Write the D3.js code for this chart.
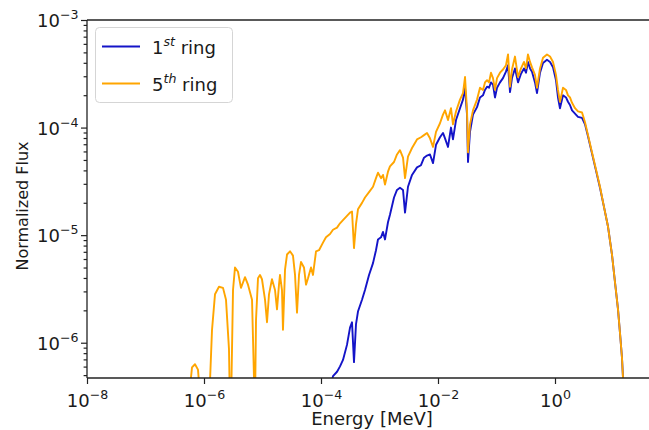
<!DOCTYPE html>
<html><head><meta charset="utf-8">
<script src="https://cdn.jsdelivr.net/npm/d3@7"></script>
<style>
body{margin:0;background:#fff}
svg{display:block}
text{font-family:"DejaVu Sans",sans-serif;fill:#1a1a1a}
</style>
</head><body>
<svg id="chart" width="649" height="430"></svg>
<script>
// log10 of energy (MeV), shared by both series
const log10Energy = [
 -6.274,-6.205,-6.154,-6.103,-6.051,-5.915,-5.863,-5.812,-5.744,-5.675,
 -5.624,-5.573,-5.556,-5.538,-5.504,-5.470,-5.419,-5.368,-5.333,-5.299,
 -5.248,-5.179,-5.145,-5.128,-5.111,-5.077,-5.043,-5.009,-4.957,-4.923,
 -4.889,-4.838,-4.786,-4.752,-4.718,-4.701,-4.667,-4.650,-4.615,-4.581,
 -4.530,-4.479,-4.444,-4.410,-4.376,-4.342,-4.291,-4.256,-4.222,-4.171,
 -4.137,-4.085,-4.034,-3.966,-3.915,-3.846,-3.795,-3.726,-3.675,-3.624,
 -3.556,-3.504,-3.470,-3.436,-3.402,-3.368,-3.299,-3.248,-3.179,-3.111,
 -3.060,-3.026,-2.974,-2.940,-2.906,-2.855,-2.821,-2.752,-2.701,-2.650,
 -2.598,-2.564,-2.513,-2.444,-2.359,-2.291,-2.239,-2.188,-2.137,-2.085,
 -2.034,-1.966,-1.915,-1.880,-1.829,-1.778,-1.744,-1.692,-1.624,-1.573,
 -1.538,-1.504,-1.487,-1.453,-1.402,-1.333,-1.282,-1.231,-1.197,-1.162,
 -1.128,-1.094,-1.060,-1.026,-0.991,-0.940,-0.889,-0.838,-0.803,-0.769,
 -0.735,-0.684,-0.632,-0.581,-0.530,-0.496,-0.462,-0.427,-0.393,-0.342,
 -0.308,-0.256,-0.205,-0.137,-0.085,-0.034, 0.017, 0.051, 0.085, 0.137,
  0.188, 0.222, 0.256, 0.291, 0.342, 0.393, 0.462, 0.513, 0.564, 0.632,
  0.701, 0.769, 0.838, 0.906, 0.974, 1.026, 1.077, 1.111, 1.145, 1.162,
  1.179
];
// log10 of normalized flux, 1st ring (null = not plotted)
const log10Flux1st = [
 null,null,null,null,null,null,null,null,null,null,
 null,null,null,null,null,null,null,null,null,null,
 null,null,null,null,null,null,null,null,null,null,
 null,null,null,null,null,null,null,null,null,null,
 null,null,null,null,null,null,null,null,null,null,
 null,null,null,null,-6.60,-6.44,-6.31,-6.27,-6.22,-6.16,
 -6.02,-5.86,-5.81,-6.18,-5.83,-5.71,-5.60,-5.51,-5.37,-5.26,
 -5.14,-5.04,-5.02,-4.97,-5.04,-4.88,-4.81,-4.65,-4.58,-4.56,
 -4.58,-4.79,-4.55,-4.44,-4.37,-4.35,-4.28,-4.26,-4.25,-4.33,
 -4.16,-4.09,-4.05,-4.10,-4.18,-4.00,-4.11,-3.93,-3.82,-3.74,
 -3.63,-3.88,-4.32,-4.04,-3.88,-3.81,-3.72,-3.70,-3.65,-3.62,
 -3.63,-3.58,-3.60,-3.72,-3.63,-3.58,-3.54,-3.48,-3.42,-3.67,
 -3.54,-3.45,-3.58,-3.50,-3.45,-3.49,-3.39,-3.45,-3.48,-3.58,
 -3.68,-3.49,-3.40,-3.37,-3.39,-3.44,-3.56,-3.72,-3.82,-3.70,
 -3.72,-3.76,-3.79,-3.84,-3.87,-3.90,-3.91,-3.97,-4.08,-4.24,
 -4.40,-4.56,-4.74,-4.92,-5.18,-5.44,-5.69,-5.91,-6.14,-6.32,
 -6.60
];
// log10 of normalized flux, 5th ring
const log10Flux5th = [
 -6.60,-6.23,-6.20,-6.25,-6.60,-6.60,-5.88,-5.55,-5.48,-5.49,
 -5.60,-6.06,-6.60,-6.60,-5.51,-5.30,-5.34,-5.49,-5.44,-5.39,
 -5.46,-5.60,-6.34,-6.60,-5.79,-5.40,-5.37,-5.41,-5.60,-5.81,
 -5.55,-5.41,-5.51,-5.69,-5.46,-5.37,-5.51,-5.88,-5.32,-5.18,
 -5.15,-5.19,-5.37,-5.72,-5.37,-5.25,-5.30,-5.46,-5.40,-5.30,
 -5.37,-5.15,-5.14,-5.07,-5.02,-4.99,-4.95,-4.93,-4.89,-4.86,
 -4.82,-4.79,-4.78,-5.12,-4.90,-4.76,-4.70,-4.65,-4.60,-4.55,
 -4.47,-4.42,-4.47,-4.44,-4.53,-4.41,-4.36,-4.32,-4.25,-4.21,
 -4.28,-4.47,-4.27,-4.19,-4.11,-4.09,-4.07,-4.05,-4.10,-4.18,
 -4.04,-3.96,-3.88,-3.84,-3.93,-3.82,-3.97,-3.85,-3.74,-3.68,
 -3.53,-3.84,-4.23,-3.97,-3.84,-3.74,-3.63,-3.65,-3.58,-3.56,
 -3.58,-3.49,-3.54,-3.65,-3.54,-3.49,-3.46,-3.42,-3.32,-3.62,
 -3.46,-3.34,-3.53,-3.45,-3.39,-3.45,-3.32,-3.39,-3.44,-3.51,
 -3.63,-3.45,-3.35,-3.32,-3.34,-3.39,-3.51,-3.65,-3.76,-3.63,
 -3.65,-3.70,-3.72,-3.77,-3.82,-3.85,-3.86,-3.95,-4.07,-4.23,
 -4.39,-4.55,-4.74,-4.92,-5.18,-5.44,-5.69,-5.91,-6.14,-6.32,
 -6.60
];
const xTickValues = [1e-8, 1e-6, 1e-4, 1e-2, 1];
const yTickValues = [1e-6, 1e-5, 1e-4, 1e-3];
const seriesLabels = [["1", "st", " ring"], ["5", "th", " ring"]];
const seriesColors = ["#1414c8", "#FFA500"];

const svg = d3.select("#chart");
const plotLeft = 87, plotTop = 20, plotBottom = 378, plotRight = 649, pxPerDecade = 58.5;
const xMin = 1e-8, xMax = 45;
const x = d3.scaleLog().domain([xMin, xMax])
  .range([plotLeft, plotLeft + pxPerDecade * Math.log10(xMax / xMin)]);
const y = d3.scaleLog().domain([4.7e-7, 1e-3]).range([plotBottom, plotTop]);

const series = [log10Flux1st, log10Flux5th].map(arr =>
  log10Energy.map((e, i) => ({E: Math.pow(10, e), F: arr[i] == null ? null : Math.pow(10, arr[i])})));

svg.append("defs").append("clipPath").attr("id", "clip")
  .append("rect").attr("x", plotLeft).attr("y", plotTop)
  .attr("width", plotRight - plotLeft).attr("height", plotBottom - plotTop);

const line = d3.line().defined(d => d.F != null).x(d => x(d.E)).y(d => y(d.F));
const g = svg.append("g").attr("clip-path", "url(#clip)");
series.forEach((s, i) => {
  g.append("path").datum(s).attr("d", line).attr("fill", "none")
    .attr("stroke", seriesColors[i]).attr("stroke-width", 1.9).attr("stroke-linejoin", "round");
});

const fs = 18, supFs = 12.6, supDy = -8;
const minus = "\u2212";
function expLabel(d) { const e = Math.round(Math.log10(d)); return e < 0 ? minus + Math.abs(e) : String(e); }
function supText(sel, base, exp) {
  sel.text(null);
  sel.append("tspan").text(base);
  sel.append("tspan").attr("dy", supDy).attr("font-size", supFs).text(exp);
}

// minor y ticks
const yMinor = [];
for (let k = -7; k <= -4; k++) for (let m = 2; m <= 9; m++) {
  const v = m * Math.pow(10, k); if (v >= 4.7e-7 && v <= 1e-3) yMinor.push(v);
}

const yAxisMinor = svg.append("g").attr("transform", `translate(${plotLeft},0)`)
  .call(d3.axisLeft(y).tickValues(yMinor).tickSize(3.4).tickFormat(""));
const yAxis = svg.append("g").attr("transform", `translate(${plotLeft},0)`)
  .call(d3.axisLeft(y).tickValues(yTickValues).tickSize(6));
yAxis.selectAll(".tick text").attr("font-size", fs).attr("font-family", "DejaVu Sans")
  .attr("dy", null).attr("y", 6.8).attr("x", -8.5)
  .each(function(d) { supText(d3.select(this), "10", expLabel(d)); });

const xAxis = svg.append("g").attr("transform", `translate(0,${plotBottom})`)
  .call(d3.axisBottom(x).tickValues(xTickValues).tickSize(6));
xAxis.selectAll(".tick text").attr("font-size", fs).attr("font-family", "DejaVu Sans")
  .attr("dy", null).attr("y", 28.5)
  .each(function(d) { supText(d3.select(this), "10", expLabel(d)); });

[yAxis, yAxisMinor, xAxis].forEach(a => {
  a.selectAll(".domain").attr("stroke", "#222").attr("stroke-width", 1.3);
  a.selectAll(".tick line").attr("stroke", "#222").attr("stroke-width", 1.2);
});
yAxisMinor.select(".domain").remove();
yAxis.select(".domain").attr("d", `M0,${plotBottom}V${plotTop}`);
xAxis.select(".domain").attr("d", `M${plotLeft},0H${plotRight}`);
svg.append("line").attr("x1", plotLeft).attr("x2", plotRight).attr("y1", plotTop).attr("y2", plotTop)
  .attr("stroke", "#222").attr("stroke-width", 1.3);

svg.append("text").attr("x", 372).attr("y", 425).attr("text-anchor", "middle")
  .attr("font-size", fs).text("Energy [MeV]");
svg.append("text").attr("transform", `translate(28,206) rotate(-90)`)
  .attr("text-anchor", "middle").attr("font-size", 16).text("Normalized Flux");

// legend
const lg = svg.append("g");
lg.append("rect").attr("x", 95.5).attr("y", 27.5).attr("width", 137).attr("height", 75).attr("rx", 4)
  .attr("fill", "#fff").attr("fill-opacity", 0.8).attr("stroke", "#d5d5d5");
seriesLabels.forEach((lab, i) => {
  const ly = 46.5 + i * 37;
  lg.append("line").attr("x1", 102).attr("x2", 140).attr("y1", ly).attr("y2", ly)
    .attr("stroke", seriesColors[i]).attr("stroke-width", 1.9);
  const t = lg.append("text").attr("x", 152).attr("y", ly + 7.5).attr("font-size", fs);
  t.append("tspan").text(lab[0]);
  t.append("tspan").attr("dy", supDy).attr("font-size", supFs).attr("font-style", "italic").text(lab[1]);
  t.append("tspan").attr("dy", -supDy).text(lab[2]);
});
</script>
</body></html>
